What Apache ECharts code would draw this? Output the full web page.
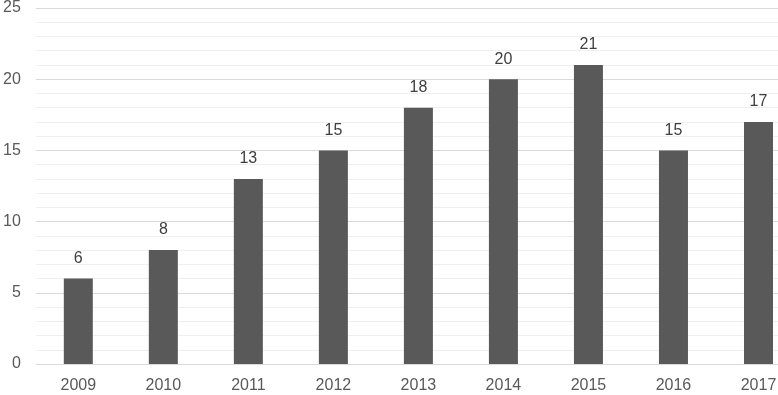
<!DOCTYPE html>
<html>
<head>
<meta charset="utf-8">
<script src="https://cdn.jsdelivr.net/npm/echarts@6/dist/echarts.min.js"></script>
<style>
  html, body { margin: 0; padding: 0; background: #fff; overflow: hidden; }
  /* the plot runs past the right edge of the picture, so the canvas is wider than the window */
  #chart { width: 801px; height: 395px; }
</style>
</head>
<body>
<div id="chart"></div>
<script>
// years and counts
const years = ['2009', '2010', '2011', '2012', '2013', '2014', '2015', '2016', '2017']
const counts = [6, 8, 13, 15, 18, 20, 21, 15, 17]

const myChart = echarts.init(document.getElementById('chart'))
const option = {
  animation: false,
  grid: {
    left: 34,
    right: 0,
    top: 6,
    bottom: 31
  },
  xAxis: {
    type: 'category',
    data: years,
    axisLine: { show: true, lineStyle: { color: '#d9d9d9' } },
    axisTick: { show: false },
    axisLabel: {
      color: '#595959',
      fontFamily: 'Liberation Sans',
      fontSize: 16,
      margin: 14
    }
  },
  yAxis: {
    type: 'value',
    min: 0,
    max: 25,
    interval: 5,
    axisLine: { show: false },
    axisTick: { show: false },
    axisLabel: {
      color: '#595959',
      fontFamily: 'Liberation Sans',
      fontSize: 16,
      margin: 15
    },
    splitLine: { lineStyle: { color: '#d9d9d9', width: 1 } },
    minorTick: { show: false, splitNumber: 5 },
    minorSplitLine: { show: true, lineStyle: { color: '#efefef', width: 1 } }
  },
  series: [
    {
      type: 'bar',
      data: counts,
      barWidth: 29,
      itemStyle: { color: '#595959' },
      label: {
        show: true,
        position: 'top',
        distance: 12,
        color: '#404040',
        fontFamily: 'Liberation Sans',
        fontSize: 16
      }
    }
  ]
}
myChart.setOption(option)
</script>
</body>
</html>
